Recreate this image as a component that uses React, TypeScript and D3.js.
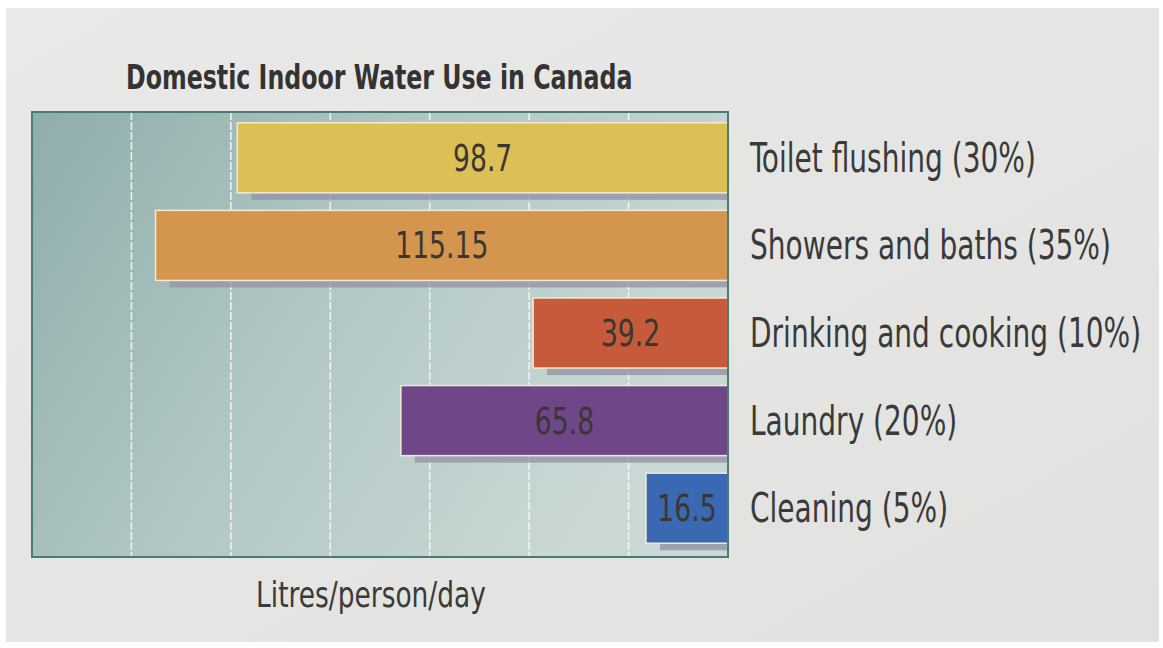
import React from 'react';
import * as d3 from 'd3';

// Data
const categories = [
  'Toilet flushing (30%)',
  'Showers and baths (35%)',
  'Drinking and cooking (10%)',
  'Laundry (20%)',
  'Cleaning (5%)',
];
const litres = [98.7, 115.15, 39.2, 65.8, 16.5];
const valueLabels = ['98.7', '115.15', '39.2', '65.8', '16.5'];
const gridTicks = [20, 40, 60, 80, 100, 120];
const barColors = ['#dcbf55', '#d4954e', '#c65a3b', '#6f4788', '#3a68b3'];

const title = 'Domestic Indoor Water Use in Canada';
const axisTitle = 'Litres/person/day';

const W = 1163;
const H = 648;
const panel = { left: 32, right: 728, top: 112, bottom: 557 };
const FONT = '"Liberation Sans Narrow", "DejaVu Sans Condensed", Roboto, sans-serif';

const App = () => {
  // values grow leftwards from the right edge of the panel
  const x = d3.scaleLinear([0, 140], [panel.right, panel.left]);
  const y = d3
    .scaleBand<string>()
    .domain(categories)
    .range([114, 552])
    .paddingInner(0.2)
    .paddingOuter(0.1);
  const bw = y.bandwidth();

  return (
    <svg
      width={W}
      height={H}
      viewBox={`0 0 ${W} ${H}`}
      style={{ position: 'absolute', left: 0, top: 0, background: '#ffffff' }}
    >
      <defs>
        <linearGradient id="panelBg" x1="0" y1="0" x2="1" y2="0.4">
          <stop offset="0" stopColor="#8fadab" />
          <stop offset="0.5" stopColor="#b1c7c4" />
          <stop offset="1" stopColor="#c9d8d5" />
        </linearGradient>
        <linearGradient id="pageBg" x1="0" y1="0" x2="1" y2="1">
          <stop offset="0" stopColor="#e9e9e7" />
          <stop offset="1" stopColor="#e1e1df" />
        </linearGradient>
        <clipPath id="panelClip">
          <rect x={panel.left} y={panel.top} width={panel.right - panel.left} height={panel.bottom - panel.top} />
        </clipPath>
      </defs>

      {/* page */}
      <rect x={6} y={8} width={W - 10} height={H - 14} fill="url(#pageBg)" />

      {/* title */}
      <text
        transform={`translate(126,89) scale(0.775,1)`}
        fontFamily={FONT}
        fontWeight="bold"
        fontSize={34}
        fill="#333333"
      >
        {title}
      </text>

      {/* plot panel */}
      <rect
        x={panel.left}
        y={panel.top}
        width={panel.right - panel.left}
        height={panel.bottom - panel.top}
        fill="url(#panelBg)"
      />

      <g clipPath="url(#panelClip)">
        {gridTicks.map((t) => (
          <line
            key={t}
            x1={x(t)}
            x2={x(t)}
            y1={panel.top}
            y2={panel.bottom}
            stroke="#f4f7f6"
            strokeWidth={1.6}
            strokeDasharray="8 2"
            opacity={0.9}
          />
        ))}

        {/* bar shadows */}
        {categories.map((c, i) => (
          <rect
            key={'s' + c}
            x={x(litres[i]) + 14}
            y={(y(c) as number) + 7}
            width={x(0) - x(litres[i])}
            height={bw}
            fill="#9495a5"
            opacity={0.8}
          />
        ))}

        {/* bars */}
        {categories.map((c, i) => (
          <rect
            key={c}
            x={x(litres[i])}
            y={y(c)}
            width={x(0) - x(litres[i])}
            height={bw}
            fill={barColors[i]}
            stroke="#f3ead3"
            strokeWidth={1.5}
          />
        ))}
      </g>

      <rect
        x={panel.left}
        y={panel.top}
        width={panel.right - panel.left}
        height={panel.bottom - panel.top}
        fill="none"
        stroke="#4a7c77"
        strokeWidth={2}
      />

      {/* value labels */}
      {categories.map((c, i) => {
        const cx = (x(litres[i]) + x(0)) / 2;
        const cy = (y(c) as number) + bw / 2;
        return (
          <text
            key={'v' + c}
            transform={`translate(${cx},${cy + 13}) scale(0.8,1)`}
            textAnchor="middle"
            fontFamily={FONT}
            fontSize={37}
            fill="#3a3733"
          >
            {valueLabels[i]}
          </text>
        );
      })}

      {/* category labels */}
      {categories.map((c) => (
        <text
          key={'c' + c}
          transform={`translate(750,${(y(c) as number) + bw / 2 + 14}) scale(0.76,1)`}
          fontFamily={FONT}
          fontSize={41}
          fill="#3a3a3a"
        >
          {c}
        </text>
      ))}

      {/* axis title */}
      <text
        transform={`translate(371,607) scale(0.84,1)`}
        textAnchor="middle"
        fontFamily={FONT}
        fontSize={35}
        fill="#3a3a3a"
      >
        {axisTitle}
      </text>
    </svg>
  );
};

export default App;
